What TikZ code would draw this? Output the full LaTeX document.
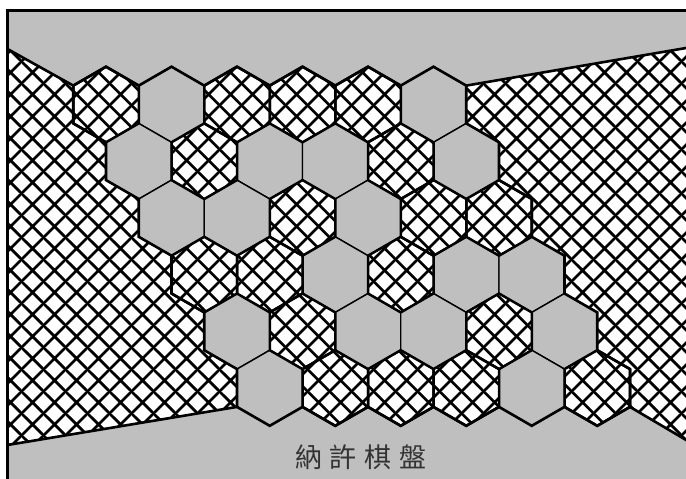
\documentclass[tikz,border=0pt]{standalone}
\usetikzlibrary{patterns}
\usepackage{fontspec}
\newfontfamily\cjk{Noto Sans CJK TC}
\definecolor{boardgray}{RGB}{191,191,191}
\definecolor{textgray}{RGB}{51,51,51}
\pgfdeclarepatternformonly{xhatch}{\pgfpointorigin}{\pgfpoint{22pt}{22pt}}{\pgfpoint{22pt}{22pt}}{
  \pgfsetlinewidth{2.8pt}
  \pgfpathmoveto{\pgfpoint{-2pt}{-2pt}}\pgfpathlineto{\pgfpoint{24pt}{24pt}}
  \pgfpathmoveto{\pgfpoint{-2pt}{24pt}}\pgfpathlineto{\pgfpoint{24pt}{-2pt}}
  \pgfusepath{stroke}}
\tikzset{
  hatch/.style={fill=white, postaction={pattern=xhatch, pattern color=black}},
  grayhex/.style={fill=boardgray, draw=black, line width=1.4pt, line join=miter},
  hatchfill/.style={hatch, draw=black, line width=1.4pt},
  hatchline/.style={draw=black, line width=2.5pt, line join=round},
  rim/.style={draw=black, line width=2.6pt, line join=miter},
  frame/.style={draw=black, line width=3pt},
}
\begin{document}
\begin{tikzpicture}[x=1pt,y=-1pt]
\useasboundingbox (0,0) rectangle (686,479);
\clip (0,0) rectangle (686,479);
\fill[boardgray] (7.5,10.5) rectangle (720,520);
% left region
\path[hatch] (7.5,49) -- (73.25,85.6) -- (73.25,123.4) -- (106,142.3) -- (106,180.1) -- (138.75,199) -- (138.75,236.8) -- (171.5,255.7) -- (171.5,293.5) -- (204.25,312.4) -- (204.25,350.2) -- (237,369.1) -- (237,406.9) -- (7.5,445) -- cycle;
% right region
\path[hatch] (466.25,85.6) -- (466.25,123.4) -- (499,142.3) -- (499,180.1) -- (531.75,199) -- (531.75,236.8) -- (564.5,255.7) -- (564.5,293.5) -- (597.25,312.4) -- (597.25,350.2) -- (630,369.1) -- (630,406.9) -- (720,460) -- (720,42.2) -- cycle;
% hexagons: fills
\foreach \r/\p in {0/{1,0,1,1,1,0},1/{0,1,0,0,1,0},2/{0,0,1,0,1,1},3/{1,1,0,1,0,0},4/{0,1,0,0,1,0},5/{0,1,1,1,0,1}}{
  \foreach \v [count=\c from 0] in \p {
    \pgfmathsetmacro\cx{106+65.5*\c+32.75*\r}
    \pgfmathsetmacro\cy{104.5+56.7*\r}
    \ifnum\v=1
      \path[hatchfill] ({\cx},{\cy-37.8}) -- ({\cx+32.75},{\cy-18.9}) -- ({\cx+32.75},{\cy+18.9}) -- ({\cx},{\cy+37.8}) -- ({\cx-32.75},{\cy+18.9}) -- ({\cx-32.75},{\cy-18.9}) -- cycle;
    \else
      \path[grayhex] ({\cx},{\cy-37.8}) -- ({\cx+32.75},{\cy-18.9}) -- ({\cx+32.75},{\cy+18.9}) -- ({\cx},{\cy+37.8}) -- ({\cx-32.75},{\cy+18.9}) -- ({\cx-32.75},{\cy-18.9}) -- cycle;
    \fi
  }
}
% hexagons: thick outlines of hatched cells
\foreach \r/\p in {0/{1,0,1,1,1,0},1/{0,1,0,0,1,0},2/{0,0,1,0,1,1},3/{1,1,0,1,0,0},4/{0,1,0,0,1,0},5/{0,1,1,1,0,1}}{
  \foreach \v [count=\c from 0] in \p {
    \pgfmathsetmacro\cx{106+65.5*\c+32.75*\r}
    \pgfmathsetmacro\cy{104.5+56.7*\r}
    \ifnum\v=1
      \path[hatchline] ({\cx},{\cy-37.8}) -- ({\cx+32.75},{\cy-18.9}) -- ({\cx+32.75},{\cy+18.9}) -- ({\cx},{\cy+37.8}) -- ({\cx-32.75},{\cy+18.9}) -- ({\cx-32.75},{\cy-18.9}) -- cycle;
    \fi
  }
}
% board rim
\path[rim] (7.5,49) -- (73.25,85.6) -- (73.25,123.4) -- (106,142.3) -- (106,180.1) -- (138.75,199) -- (138.75,236.8) -- (171.5,255.7) -- (171.5,293.5) -- (204.25,312.4) -- (204.25,350.2) -- (237,369.1) -- (237,406.9) -- (7.5,445);
\path[rim] (720,42.2) -- (466.25,85.6) -- (466.25,123.4) -- (499,142.3) -- (499,180.1) -- (531.75,199) -- (531.75,236.8) -- (564.5,255.7) -- (564.5,293.5) -- (597.25,312.4) -- (597.25,350.2) -- (630,369.1) -- (630,406.9) -- (720,460);
\path[rim] (73.25,85.6) \foreach \k in {0,...,5}{ -- ({106+65.5*\k},66.7) -- ({138.75+65.5*\k},85.6)};
\path[rim] (237,406.9) \foreach \k in {0,...,5}{ -- ({269.75+65.5*\k},425.8) -- ({302.5+65.5*\k},406.9)};
% frame
\draw[frame] (7.5,10.5) rectangle (720,520);
% caption
\node[text=textgray, font=\cjk\fontsize{27}{30}\selectfont, inner sep=0pt] (title) at (361,457) {納\hspace{8pt}許\hspace{8pt}棋\hspace{8pt}盤};
\end{tikzpicture}
\end{document}
